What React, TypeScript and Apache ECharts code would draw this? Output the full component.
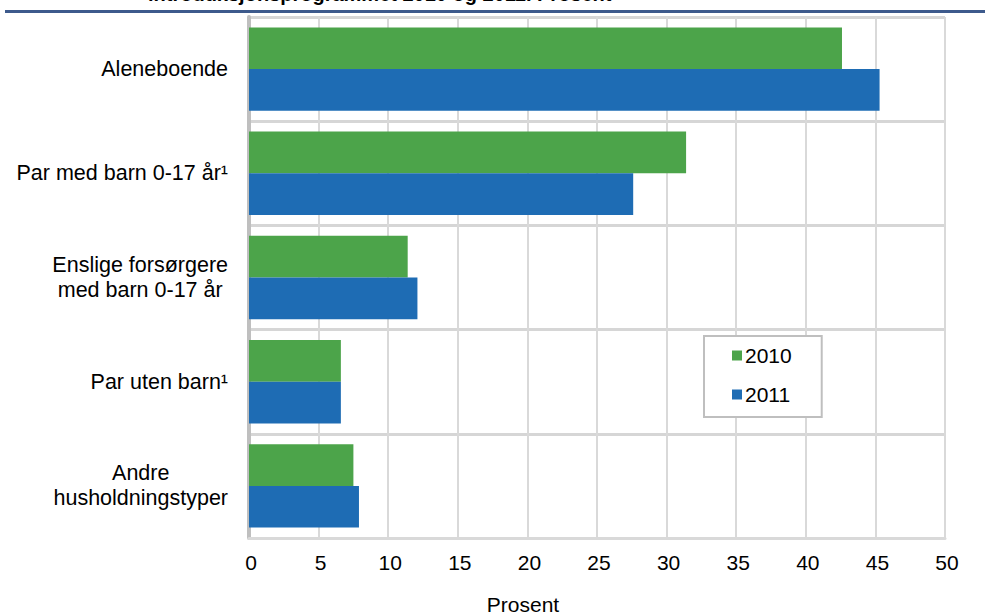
import React, { useEffect, useRef } from "react";
import * as echarts from "echarts";

const categories = [
  "Aleneboende",
  "Par med barn 0-17 år¹",
  "Enslige forsørgere\nmed barn 0-17 år",
  "Par uten barn¹",
  "Andre\nhusholdningstyper",
];
const values2010 = [42.6, 31.4, 11.4, 6.6, 7.5];
const values2011 = [45.3, 27.6, 12.1, 6.6, 7.9];
const xTicks = [0, 50, 5];
const titleText = "introduksjonsprogrammet 2010 og 2011. Prosent";
const axisTitle = "Prosent";

const FONT = "'Liberation Sans', Arial, Helvetica, sans-serif";

export default function App() {
  const ref = useRef<HTMLDivElement>(null);
  useEffect(() => {
    if (!ref.current) return;
    const chart = echarts.init(ref.current, null, { renderer: "svg" });
    chart.setOption({
      animation: false,
      backgroundColor: "#ffffff",
      textStyle: { fontFamily: FONT },
      grid: { left: 249, right: 40, top: 17, bottom: 76, containLabel: false },
      legend: {
        orient: "vertical",
        left: 704,
        top: 336,
        data: ["2010", "2011"],
        icon: "rect",
        itemWidth: 10,
        itemHeight: 10,
        itemGap: 18,
        padding: [9, 30, 12, 28],
        backgroundColor: "#ffffff",
        borderColor: "#bfbfbf",
        borderWidth: 2,
        borderRadius: 0,
        textStyle: { fontSize: 21, color: "#000", fontFamily: FONT, padding: [0, 0, 0, -2] },
      },
      xAxis: {
        type: "value",
        min: xTicks[0],
        max: xTicks[1],
        interval: xTicks[2],
        axisLine: { show: true, lineStyle: { color: "#d9d9d9", width: 3 } },
        axisTick: { show: false },
        splitLine: { show: true, lineStyle: { color: "#d9d9d9", width: 2 } },
        axisLabel: { fontSize: 21, color: "#000", margin: 14, fontFamily: FONT, padding: [0, 0, 0, 4] },
      },
      yAxis: {
        type: "category",
        inverse: true,
        data: categories,
        axisLine: { show: true, lineStyle: { color: "#bfbfbf", width: 4 } },
        axisTick: { show: false },
        splitLine: { show: true, lineStyle: { color: "#d6d6d6", width: 3 } },
        axisLabel: {
          fontSize: 21.5,
          color: "#000",
          margin: 21,
          lineHeight: 25,
          fontFamily: FONT,
          formatter: (v: string) =>
            v
              .split("\n")
              .map((l) => "{c|" + l + "}")
              .join("\n"),
          rich: {
            c: { align: "center", fontSize: 21.5, lineHeight: 25, color: "#000", fontFamily: FONT },
          },
        },
      },
      series: [
        {
          name: "2010",
          type: "bar",
          data: values2010,
          itemStyle: { color: "#4ca44a" },
          barGap: "0%",
          barCategoryGap: "20%",
        },
        {
          name: "2011",
          type: "bar",
          data: values2011,
          itemStyle: { color: "#1e6cb4" },
          barGap: "0%",
          barCategoryGap: "20%",
        },
      ],
      graphic: [
        {
          type: "rect",
          shape: { x: 5, y: 10, width: 980, height: 3 },
          style: { fill: "#3d5a8c" },
          silent: true,
        },
        {
          type: "text",
          x: 148,
          y: 4,
          style: {
            text: titleText,
            fontSize: 20,
            fontWeight: "bold",
            fontFamily: FONT,
            fill: "#000",
            verticalAlign: "bottom",
            align: "left",
          },
        },
        {
          type: "text",
          x: 523,
          y: 604,
          style: {
            text: axisTitle,
            fontSize: 21,
            fontFamily: FONT,
            fill: "#000",
            verticalAlign: "middle",
            align: "center",
          },
        },
      ],
    });
    return () => chart.dispose();
  }, []);
  return (
    <div
      ref={ref}
      style={{ position: "fixed", left: 0, top: 0, width: 985, height: 614 }}
    />
  );
}
